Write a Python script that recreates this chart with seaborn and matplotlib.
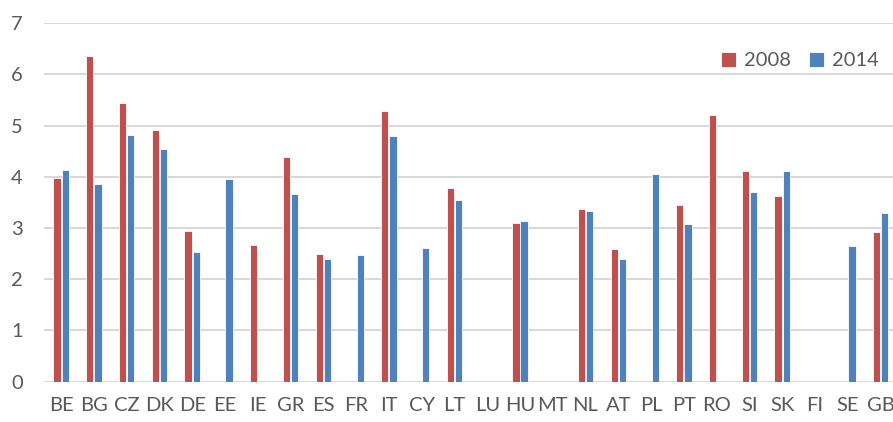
import numpy as np
import pandas as pd
import matplotlib
matplotlib.use('Agg')
import matplotlib.pyplot as plt
import seaborn as sns

#--- data (NaN = no bar)
countries = ['BE', 'BG', 'CZ', 'DK', 'DE', 'EE', 'IE', 'GR', 'ES', 'FR', 'IT', 'CY', 'LT',
             'LU', 'HU', 'MT', 'NL', 'AT', 'PL', 'PT', 'RO', 'SI', 'SK', 'FI', 'SE', 'GB']
v2008 = [3.97, 6.36, 5.44, 4.91, 2.94, np.nan, 2.67, 4.39, 2.49, np.nan, 5.29, np.nan, 3.79,
         np.nan, 3.10, np.nan, 3.38, 2.59, np.nan, 3.46, 5.20, 4.11, 3.63, np.nan, np.nan, 2.92]
v2014 = [4.13, 3.86, 4.81, 4.54, 2.53, 3.96, np.nan, 3.67, 2.39, 2.48, 4.79, 2.62, 3.54,
         np.nan, 3.14, np.nan, 3.33, 2.39, 4.05, 3.07, np.nan, 3.70, 4.11, np.nan, 2.64, 3.30]
years = ['2008', '2014']
colors = ['#C0504D', '#4F81BD']

df = pd.DataFrame({
    'country': countries * 2,
    'year': [years[0]] * len(countries) + [years[1]] * len(countries),
    'value': v2008 + v2014,
}).dropna()

sns.set_style('white')
plt.rcParams['font.family'] = ['Lato', 'DejaVu Sans']
txt = '#595959'

fig = plt.figure(figsize=(8.93, 4.22), dpi=100)
ax = fig.add_axes([0.049, 0.0955, 0.951, 0.8495])

sns.barplot(data=df, x='country', y='value', hue='year', order=countries,
            hue_order=years, palette=colors, saturation=1, width=0.5, gap=0.1,
            errorbar=None, edgecolor='white', linewidth=0.6, ax=ax, zorder=3)

ax.set_ylim(0, 7)
ax.set_xlim(-0.53, 25.38)
ax.set_yticks(range(0, 8))
ax.yaxis.grid(True, color='#D9D9D9', linewidth=1.5, zorder=0)
ax.set_axisbelow(True)
for s in ['top', 'right', 'left', 'bottom']:
    ax.spines[s].set_visible(False)
ax.axhline(0, color='#D9D9D9', linewidth=1.5, zorder=1)
ax.set_xlabel('')
ax.set_ylabel('')
ax.tick_params(axis='both', length=0, labelsize=14.5, colors=txt)
ax.tick_params(axis='y', pad=15)
ax.tick_params(axis='x', pad=11)

ax.legend(loc='upper right', bbox_to_anchor=(1.005, 0.97), frameon=False, ncol=2,
          fontsize=14.5, handlelength=0.75, handleheight=0.75, handletextpad=0.4,
          columnspacing=0.9, labelcolor=txt)

plt.savefig('out.png', dpi=100)
